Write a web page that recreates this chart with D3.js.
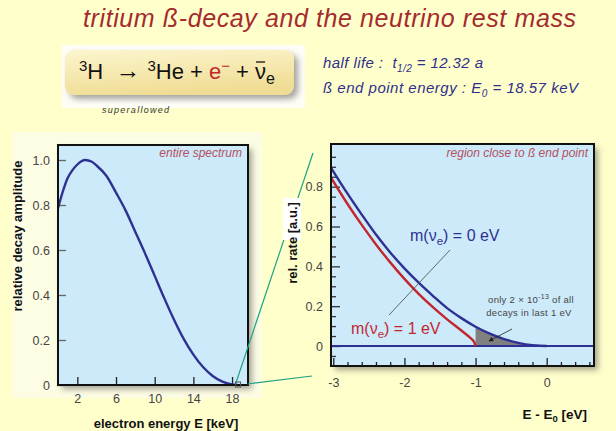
<!DOCTYPE html>
<html>
<head>
<meta charset="utf-8">
<script src="https://cdn.jsdelivr.net/npm/d3@7"></script>
<style>
  body { margin: 0; background: #ffffcc; }
  svg { display: block; font-family: "Liberation Sans", Arial, sans-serif; }
</style>
</head>
<body>
<svg width="616" height="431"></svg>
<script>
(function(d3) {
    "use strict";

// entire spectrum (left panel)
var specEnergy = [0, 0.5, 1, 1.5, 2, 2.8, 3.5, 4, 5, 6, 7, 8, 9, 10, 11, 12, 13, 14, 15, 16, 17, 18, 18.57],
    specAmp = [0.785, 0.86, 0.92, 0.955, 0.98, 1.0, 0.992, 0.975, 0.93, 0.855, 0.775, 0.68, 0.585, 0.485, 0.385, 0.29, 0.205, 0.135, 0.08, 0.04, 0.015, 0.003, 0],
    specTicksX = [2, 6, 10, 14, 18],
    specTicksY = [0, 0.2, 0.4, 0.6, 0.8, 1.0],
    endPoint = 18.57;

// region close to end point (right panel)
var dE0 = [-3.04, -2.8, -2.6, -2.4, -2.2, -2.0, -1.8, -1.6, -1.4, -1.2, -1.0, -0.8, -0.6, -0.4, -0.2, -0.1, 0],
    rate0 = [0.90, 0.765, 0.66, 0.56, 0.47, 0.39, 0.318, 0.252, 0.19, 0.14, 0.097, 0.062, 0.035, 0.016, 0.004, 0.001, 0],
    dE1 = [-3.04, -2.8, -2.6, -2.4, -2.2, -2.0, -1.8, -1.6, -1.4, -1.2, -1.1, -1.05, -1.02, -1.0],
    rate1 = [0.85, 0.713, 0.608, 0.51, 0.42, 0.337, 0.262, 0.195, 0.134, 0.078, 0.049, 0.033, 0.02, 0],
    endTicksX = [-3, -2, -1, 0],
    endMinorX = [-2.8, -2.6, -2.4, -2.2, -1.8, -1.6, -1.4, -1.2, -0.8, -0.6, -0.4, -0.2, 0.2, 0.4, 0.6],
    endTicksY = [0, 0.2, 0.4, 0.6, 0.8],
    endMinorY = [-0.05, 0.05, 0.1, 0.15, 0.25, 0.3, 0.35, 0.45, 0.5, 0.55, 0.65, 0.7, 0.75, 0.85, 0.9, 0.95],
    shadeFrom = -1.0;

var svg = d3.select("svg"),
    blue = "#2e3192",
    red = "#c1272d",
    navy = "#2f2f8a",
    plotFill = "#cdeafa",
    font = "'Liberation Sans', Arial, sans-serif";

var defs = svg.append("defs");

defs.append("filter").attr("id", "shadow")
    .attr("x", "-10%").attr("y", "-10%").attr("width", "130%").attr("height", "130%")
    .append("feDropShadow")
    .attr("dx", 4).attr("dy", 4).attr("stdDeviation", 3)
    .attr("flood-color", "#555").attr("flood-opacity", 0.55);

var grad = defs.append("linearGradient").attr("id", "boxgrad")
    .attr("x1", 0).attr("y1", 0).attr("x2", 0.3).attr("y2", 1);
grad.append("stop").attr("offset", 0).attr("stop-color", "#fcf6cf");
grad.append("stop").attr("offset", 1).attr("stop-color", "#f0dd95");

// ---------- title ----------
svg.append("text")
    .attr("x", 83).attr("y", 27)
    .attr("font-size", 25)
    .attr("font-style", "italic")
    .attr("fill", "#a52a2e")
    .attr("textLength", 493)
    .attr("lengthAdjust", "spacing")
    .text("tritium ß-decay and the neutrino rest mass");

// ---------- formula box ----------
svg.append("rect")
    .attr("x", 62).attr("y", 45).attr("width", 243).attr("height", 63)
    .attr("fill", "#fffef6");

svg.append("rect")
    .attr("x", 65).attr("y", 50).attr("width", 229).attr("height", 45)
    .attr("rx", 9)
    .attr("fill", "url(#boxgrad)")
    .attr("filter", "url(#shadow)");

var formula = svg.append("text")
    .attr("x", 79).attr("y", 79)
    .attr("font-size", 22)
    .attr("fill", "#111");
formula.append("tspan").attr("font-size", 15).attr("dy", -8).text("3");
formula.append("tspan").attr("dy", 8).text("H\u00a0\u00a0");
formula.append("tspan").attr("font-size", 25).text("\u2192\u00a0");
formula.append("tspan").attr("font-size", 15).attr("dy", -8).text("3");
formula.append("tspan").attr("dy", 8).text("He\u00a0+\u00a0");
formula.append("tspan").attr("fill", red).text("e");
formula.append("tspan").attr("fill", red).attr("font-size", 15).attr("dy", -8).text("\u2212");
formula.append("tspan").attr("dy", 8).text("\u00a0+\u00a0");
formula.append("tspan").text("\u03bd");
formula.append("tspan").attr("font-size", 16).attr("dy", 5).text("e");

// bar over the antineutrino
var fnode = formula.node(),
    nuIndex = fnode.textContent.indexOf("\u03bd"),
    nuStart = fnode.getStartPositionOfChar(nuIndex),
    nuEnd = fnode.getEndPositionOfChar(nuIndex);
svg.append("line")
    .attr("x1", nuStart.x + 1).attr("x2", nuEnd.x - 1)
    .attr("y1", 62).attr("y2", 62)
    .attr("stroke", "#111").attr("stroke-width", 1.3);

svg.append("text")
    .attr("x", 102).attr("y", 113)
    .attr("font-size", 9)
    .attr("font-style", "italic")
    .attr("fill", "#333")
    .attr("textLength", 67)
    .attr("lengthAdjust", "spacing")
    .text("superallowed");

// ---------- half life / end point ----------
var info = svg.append("g")
    .attr("font-size", 15)
    .attr("font-style", "italic")
    .attr("fill", navy);

var l1 = info.append("text").attr("x", 323).attr("y", 68)
    .attr("textLength", 160).attr("lengthAdjust", "spacing");
l1.append("tspan").text("half life :\u00a0 t");
l1.append("tspan").attr("font-size", 10).attr("dy", 4).text("1/2");
l1.append("tspan").attr("dy", -4).text(" = 12.32 a");

var l2 = info.append("text").attr("x", 323).attr("y", 93)
    .attr("textLength", 255).attr("lengthAdjust", "spacing");
l2.append("tspan").text("ß end point energy : E");
l2.append("tspan").attr("font-size", 10).attr("dy", 4).text("0");
l2.append("tspan").attr("dy", -4).text(" = 18.57 keV");

// ---------- left panel : entire spectrum ----------
var xL = d3.scaleLinear().domain([0, 19.65]).range([58, 248]),
    yL = d3.scaleLinear().domain([0, 1]).range([385, 160]),
    leftTop = 145;

svg.append("rect")
    .attr("x", 12).attr("y", 132).attr("width", 250).attr("height", 266)
    .attr("fill", "#fdfde4");

svg.append("rect")
    .attr("x", xL.range()[0]).attr("y", leftTop)
    .attr("width", xL.range()[1] - xL.range()[0])
    .attr("height", yL.range()[0] - leftTop)
    .attr("fill", plotFill)
    .attr("filter", "url(#shadow)");

defs.append("clipPath").attr("id", "clipL")
    .append("rect")
    .attr("x", xL.range()[0]).attr("y", leftTop)
    .attr("width", xL.range()[1] - xL.range()[0])
    .attr("height", yL.range()[0] - leftTop);

function styleAxis(g, tickColor) {
    g.select(".domain").remove();
    g.selectAll(".tick line").attr("stroke", tickColor).attr("stroke-width", 1.3);
    g.selectAll(".tick text")
        .attr("fill", "#444")
        .attr("font-size", 12.5)
        .attr("font-family", font);
}

svg.append("g")
    .attr("transform", "translate(0," + yL(0) + ")")
    .call(d3.axisBottom(xL).tickValues(specTicksX).tickSizeInner(-8).tickSizeOuter(0).tickPadding(9))
    .call(styleAxis, "#222");

svg.append("g")
    .attr("transform", "translate(" + xL.range()[0] + ",0)")
    .call(d3.axisLeft(yL).tickValues(specTicksY)
        .tickFormat(function(d) { return d === 0 ? "0" : d.toFixed(1); })
        .tickSizeInner(-8).tickSizeOuter(0).tickPadding(8))
    .call(styleAxis, "#666");

svg.append("path")
    .datum(specEnergy.map(function(e, i) { return [e, specAmp[i]]; }))
    .attr("clip-path", "url(#clipL)")
    .attr("fill", "none")
    .attr("stroke", blue)
    .attr("stroke-width", 2.4)
    .attr("d", d3.line()
        .x(function(d) { return xL(d[0]); })
        .y(function(d) { return yL(d[1]); })
        .curve(d3.curveMonotoneX));

svg.append("rect")
    .attr("x", xL.range()[0]).attr("y", leftTop)
    .attr("width", xL.range()[1] - xL.range()[0])
    .attr("height", yL.range()[0] - leftTop)
    .attr("fill", "none")
    .attr("stroke", "#111")
    .attr("stroke-width", 2);

svg.append("text")
    .attr("x", xL.range()[1] - 6).attr("y", 157)
    .attr("text-anchor", "end")
    .attr("font-size", 12)
    .attr("font-style", "italic")
    .attr("fill", "#b4505e")
    .text("entire spectrum");

svg.append("text")
    .attr("transform", "translate(22,236) rotate(-90)")
    .attr("text-anchor", "middle")
    .attr("font-size", 13)
    .attr("font-weight", "bold")
    .attr("fill", "#111")
    .text("relative decay amplitude");

svg.append("text")
    .attr("x", 166).attr("y", 428)
    .attr("text-anchor", "middle")
    .attr("font-size", 13)
    .attr("font-weight", "bold")
    .attr("fill", "#111")
    .text("electron energy E [keV]");

// zoom lines from end point to the right panel
var ex = xL(endPoint), ey = yL(0);
svg.append("g")
    .attr("stroke", "#1fa385")
    .attr("stroke-width", 1.2)
    .selectAll("line")
    .data([[ex - 2, ey - 1, 313, 153], [ex + 10, ey - 1, 312, 376]])
    .join("line")
    .attr("x1", function(d) { return d[0]; })
    .attr("y1", function(d) { return d[1]; })
    .attr("x2", function(d) { return d[2]; })
    .attr("y2", function(d) { return d[3]; });

svg.append("rect")
    .attr("x", ex - 2).attr("y", ey - 3).attr("width", 5).attr("height", 5)
    .attr("fill", "none")
    .attr("stroke", "#555")
    .attr("stroke-width", 1);

// ---------- right panel : region close to end point ----------
var xR = d3.scaleLinear().domain([-3, 0]).range([333.3, 546.7]),
    yR = d3.scaleLinear().domain([0, 0.8]).range([346, 186.7]),
    rLeft = 331, rRight = 594, rTop = 144, rBottom = 366;

svg.append("rect")
    .attr("x", rLeft).attr("y", rTop)
    .attr("width", rRight - rLeft).attr("height", rBottom - rTop)
    .attr("fill", plotFill)
    .attr("filter", "url(#shadow)");

defs.append("clipPath").attr("id", "clipR")
    .append("rect")
    .attr("x", rLeft).attr("y", rTop)
    .attr("width", rRight - rLeft).attr("height", rBottom - rTop);

svg.append("g")
    .attr("transform", "translate(0," + rBottom + ")")
    .call(d3.axisBottom(xR).tickValues(endTicksX)
        .tickFormat(function(d) { return String(d); })
        .tickSizeInner(-8).tickSizeOuter(0).tickPadding(12))
    .call(styleAxis, "#222");

svg.append("g")
    .attr("transform", "translate(0," + rBottom + ")")
    .call(d3.axisBottom(xR).tickValues(endMinorX).tickFormat("")
        .tickSizeInner(-4).tickSizeOuter(0))
    .call(styleAxis, "#222");

svg.append("g")
    .attr("transform", "translate(" + rLeft + ",0)")
    .call(d3.axisLeft(yR).tickValues(endTicksY)
        .tickFormat(function(d) { return d === 0 ? "0" : d.toFixed(1); })
        .tickSizeInner(-9).tickSizeOuter(0).tickPadding(8))
    .call(styleAxis, "#333");

svg.append("g")
    .attr("transform", "translate(" + rLeft + ",0)")
    .call(d3.axisLeft(yR).tickValues(endMinorY).tickFormat("")
        .tickSizeInner(-5).tickSizeOuter(0))
    .call(styleAxis, "#333");

var plotR = svg.append("g").attr("clip-path", "url(#clipR)");

var lineR = d3.line()
    .x(function(d) { return xR(d[0]); })
    .y(function(d) { return yR(d[1]); })
    .curve(d3.curveMonotoneX);

// grey share of decays in the last eV
var shade = dE0.map(function(e, i) { return [e, rate0[i]]; })
    .filter(function(d) { return d[0] >= shadeFrom; });
plotR.append("path")
    .datum(shade)
    .attr("fill", "#808080")
    .attr("d", d3.area()
        .x(function(d) { return xR(d[0]); })
        .y0(yR(0))
        .y1(function(d) { return yR(d[1]); })
        .curve(d3.curveMonotoneX));

plotR.append("line")
    .attr("x1", rLeft).attr("x2", rRight)
    .attr("y1", yR(0)).attr("y2", yR(0))
    .attr("stroke", blue)
    .attr("stroke-width", 2);

plotR.append("path")
    .datum(dE1.map(function(e, i) { return [e, rate1[i]]; }))
    .attr("fill", "none")
    .attr("stroke", red)
    .attr("stroke-width", 2.4)
    .attr("d", lineR);

plotR.append("path")
    .datum(dE0.map(function(e, i) { return [e, rate0[i]]; }))
    .attr("fill", "none")
    .attr("stroke", blue)
    .attr("stroke-width", 2.4)
    .attr("d", lineR);

svg.append("rect")
    .attr("x", rLeft).attr("y", rTop)
    .attr("width", rRight - rLeft).attr("height", rBottom - rTop)
    .attr("fill", "none")
    .attr("stroke", "#111")
    .attr("stroke-width", 2);

svg.append("text")
    .attr("x", rRight - 6).attr("y", 157)
    .attr("text-anchor", "end")
    .attr("font-size", 12)
    .attr("font-style", "italic")
    .attr("fill", "#b4505e")
    .text("region close to ß end point");

// curve labels
function massLabel(x, y, color, value) {
    var t = svg.append("text")
        .attr("x", x).attr("y", y)
        .attr("font-size", 16)
        .attr("fill", color);
    t.append("tspan").text("m(\u03bd");
    t.append("tspan").attr("font-size", 11.5).attr("dy", 4).text("e");
    t.append("tspan").attr("dy", -4).text(") = " + value + " eV");
}
massLabel(410, 241, blue, 0);
massLabel(351, 334, red, 1);

svg.append("line")
    .attr("x1", 450).attr("y1", 250).attr("x2", 389).attr("y2", 315)
    .attr("stroke", "#444").attr("stroke-width", 0.8);

var note = svg.append("g")
    .attr("font-size", 9.5)
    .attr("fill", "#444")
    .attr("text-anchor", "middle")
    .attr("letter-spacing", 0.3);
var n1 = note.append("text").attr("x", 531).attr("y", 303);
n1.append("tspan").text("only 2 \u00d7 10");
n1.append("tspan").attr("font-size", 7).attr("dy", -4).text("-13");
n1.append("tspan").attr("dy", 4).text(" of all");
note.append("text").attr("x", 529).attr("y", 316).text("decays in last 1 eV");

defs.append("marker").attr("id", "arrow")
    .attr("viewBox", "0 0 10 10").attr("refX", 9).attr("refY", 5)
    .attr("markerWidth", 6).attr("markerHeight", 6).attr("orient", "auto")
    .append("path").attr("d", "M0,0L10,5L0,10Z").attr("fill", "#222");

svg.append("line")
    .attr("x1", 512).attr("y1", 329).attr("x2", 489).attr("y2", 341)
    .attr("stroke", "#222").attr("stroke-width", 0.8)
    .attr("marker-end", "url(#arrow)");

// axis titles
svg.append("rect")
    .attr("x", 283).attr("y", 198).attr("width", 18).attr("height", 42)
    .attr("fill", "#ffffff");

svg.append("text")
    .attr("transform", "translate(297,243) rotate(-90)")
    .attr("text-anchor", "middle")
    .attr("font-size", 13)
    .attr("font-weight", "bold")
    .attr("fill", "#111")
    .text("rel. rate [a.u.]");

var xt = svg.append("text")
    .attr("x", 587).attr("y", 419)
    .attr("text-anchor", "end")
    .attr("font-size", 13.5)
    .attr("font-weight", "bold")
    .attr("fill", "#111");
xt.append("tspan").text("E - E");
xt.append("tspan").attr("font-size", 9.5).attr("dy", 3).text("0");
xt.append("tspan").attr("dy", -3).text(" [eV]");

}(d3));
</script>
</body>
</html>
